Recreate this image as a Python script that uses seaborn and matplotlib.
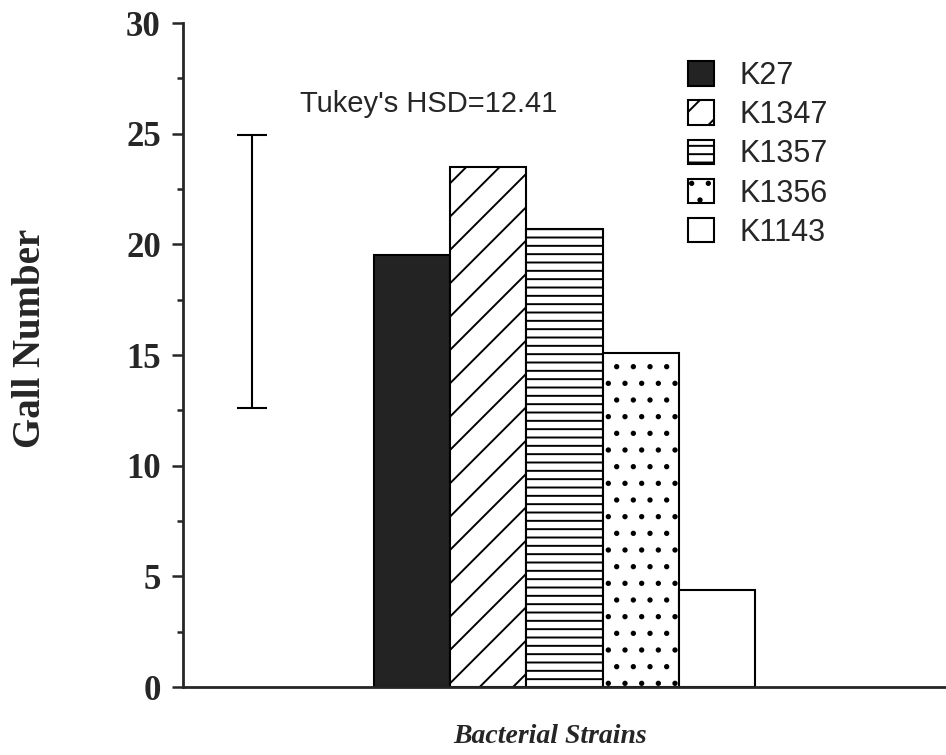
import pandas as pd
import matplotlib
matplotlib.use('Agg')
import matplotlib.pyplot as plt
import seaborn as sns
from matplotlib.ticker import MultipleLocator

##### Data #####
strains = ['K27', 'K1347', 'K1357', 'K1356', 'K1143']
gall_number = [19.5, 23.5, 20.7, 15.1, 4.4]
bar_colors = ['#232323', 'white', 'white', 'white', 'white']
bar_hatches = ['', '/', '--', '.', '']

hsd_low = 12.6
hsd_high = 24.95
hsd_label = "Tukey's HSD=12.41"


def make_plot(df):
    sns.set_style('ticks')
    plt.rcParams['font.family'] = ['Liberation Serif', 'DejaVu Serif']
    plt.rcParams['hatch.linewidth'] = 1.4

    fig = plt.figure(figsize=(9.46, 7.55), dpi=100)
    ax = fig.add_axes([183 / 946, 68 / 755, 763 / 946, 664 / 755])

    sns.barplot(data=df, x='strain', y='galls', hue='strain', palette=bar_colors,
                width=1.0, edgecolor='black', linewidth=1.5, legend=False, ax=ax)

    # hatch patterns per strain
    bar_containers = list(ax.containers)
    for bars, hatch in zip(bar_containers, bar_hatches):
        for bar in bars:
            bar.set_hatch(hatch)
    handles = [bars.patches[0] for bars in bar_containers]

    # Tukey HSD bar on the left
    mid = (hsd_low + hsd_high) / 2
    half = (hsd_high - hsd_low) / 2
    ax.errorbar(-2.1, mid, yerr=half, fmt='none', ecolor='black',
                elinewidth=1.5, capsize=10.8, capthick=1.5)
    ax.text(-1.47, 26.35, hsd_label, fontsize=21, family='Liberation Sans',
            va='center', ha='left')

    ax.set_xlim(-3, 7)
    ax.set_ylim(0, 30)
    ax.set_xticks([])
    ax.yaxis.set_major_locator(MultipleLocator(5))
    ax.yaxis.set_minor_locator(MultipleLocator(2.5))
    ax.tick_params(axis='y', which='major', direction='out', length=8, width=1.8,
                   pad=8, labelsize=25)
    ax.tick_params(axis='y', which='minor', direction='out', length=4.5, width=1.8)
    for lbl in ax.get_yticklabels():
        lbl.set_fontweight('bold')

    sns.despine(ax=ax)
    for side in ['left', 'bottom']:
        ax.spines[side].set_linewidth(2.0)

    ax.set_ylabel('Gall Number', fontsize=28, fontweight='bold')
    ax.yaxis.set_label_coords(-0.175, 0.525)
    ax.set_xlabel('Bacterial Strains', fontsize=20, fontweight='bold', style='italic')
    ax.xaxis.set_label_coords(0.481, -0.055)

    ax.legend(handles, strains, loc='upper left', bbox_to_anchor=(688 / 946, 1 - 61 / 755),
              bbox_transform=fig.transFigure, frameon=False, borderpad=0, borderaxespad=0,
              handlelength=0.85, handleheight=0.85, handletextpad=0.85, labelspacing=0.3,
              prop={'family': 'Liberation Sans', 'size': 22})

    fig.savefig('out.png', dpi=100)


def main():
    df = pd.DataFrame({'strain': strains, 'galls': gall_number})
    make_plot(df)


if __name__ == '__main__':
    main()
